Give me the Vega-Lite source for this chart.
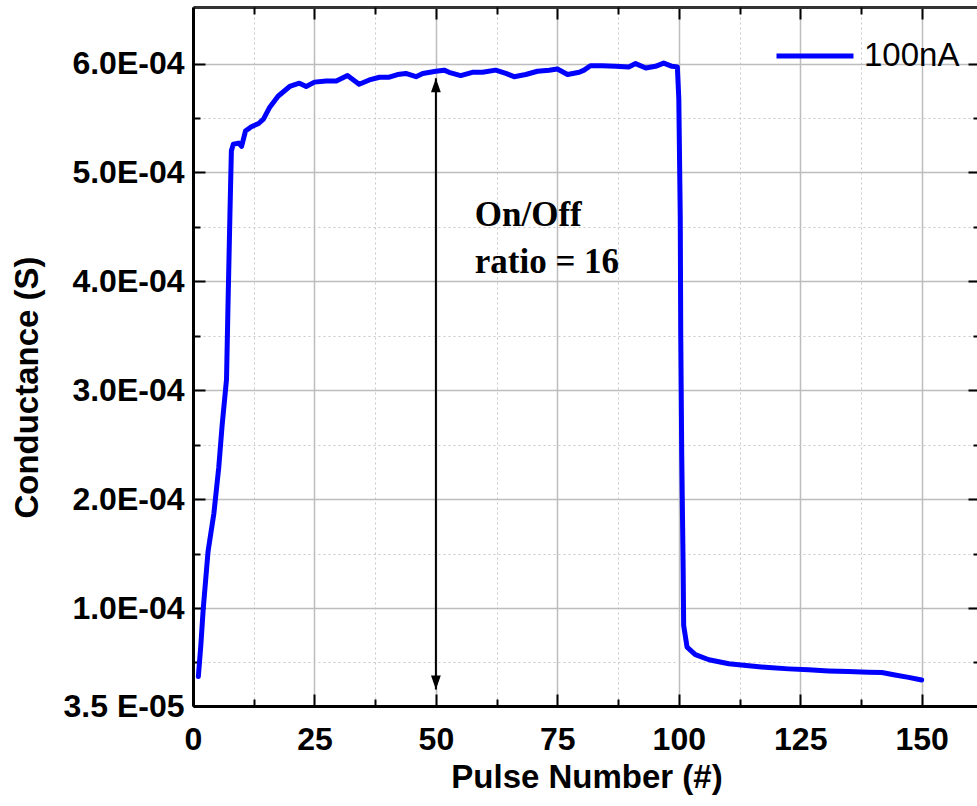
{
  "$schema": "https://vega.github.io/schema/vega-lite/v6.json",
  "autosize": {"type": "none"},
  "width": 787,
  "height": 699,
  "padding": {"left": 193, "top": 7, "right": 0, "bottom": 100},
  "background": "white",
  "config": {
    "view": {"stroke": null},
    "axis": {"labelFont": "Liberation Sans", "titleFont": "Liberation Sans", "labelColor": "black", "titleColor": "black", "tickColor": "black", "tickWidth": 2, "labelFlush": false, "labelOverlap": false}
  },
  "datasets": {
    "curve": [
      {"pulse": 1.1, "G": 3.7e-5}, {"pulse": 1.6, "G": 6.5e-5}, {"pulse": 2.1, "G": 9.9e-5}, {"pulse": 3.1, "G": 1.52e-4},
      {"pulse": 4.3, "G": 1.87e-4}, {"pulse": 5.3, "G": 2.29e-4}, {"pulse": 6.0, "G": 2.68e-4}, {"pulse": 6.9, "G": 3.10e-4},
      {"pulse": 7.2, "G": 3.77e-4}, {"pulse": 7.6, "G": 4.61e-4}, {"pulse": 7.9, "G": 5.20e-4}, {"pulse": 8.3, "G": 5.26e-4},
      {"pulse": 9.4, "G": 5.27e-4}, {"pulse": 10.0, "G": 5.24e-4}, {"pulse": 10.8, "G": 5.38e-4}, {"pulse": 12.0, "G": 5.42e-4},
      {"pulse": 13.5, "G": 5.45e-4}, {"pulse": 14.5, "G": 5.49e-4}, {"pulse": 15.8, "G": 5.60e-4}, {"pulse": 17.5, "G": 5.70e-4},
      {"pulse": 19.9, "G": 5.79e-4}, {"pulse": 21.9, "G": 5.82e-4}, {"pulse": 23.3, "G": 5.79e-4}, {"pulse": 25.0, "G": 5.83e-4},
      {"pulse": 27.4, "G": 5.84e-4}, {"pulse": 29.5, "G": 5.84e-4}, {"pulse": 31.8, "G": 5.89e-4}, {"pulse": 34.2, "G": 5.81e-4},
      {"pulse": 36.3, "G": 5.85e-4}, {"pulse": 38.4, "G": 5.875e-4}, {"pulse": 40.4, "G": 5.875e-4}, {"pulse": 42.1, "G": 5.90e-4},
      {"pulse": 43.8, "G": 5.91e-4}, {"pulse": 45.9, "G": 5.88e-4}, {"pulse": 47.3, "G": 5.91e-4}, {"pulse": 50.0, "G": 5.93e-4},
      {"pulse": 51.7, "G": 5.94e-4}, {"pulse": 52.7, "G": 5.92e-4}, {"pulse": 55.1, "G": 5.89e-4}, {"pulse": 57.5, "G": 5.92e-4},
      {"pulse": 59.6, "G": 5.92e-4}, {"pulse": 62.3, "G": 5.94e-4}, {"pulse": 64.4, "G": 5.91e-4}, {"pulse": 66.1, "G": 5.88e-4},
      {"pulse": 68.5, "G": 5.90e-4}, {"pulse": 70.9, "G": 5.93e-4}, {"pulse": 73.3, "G": 5.94e-4}, {"pulse": 75.0, "G": 5.95e-4},
      {"pulse": 77.1, "G": 5.90e-4}, {"pulse": 79.5, "G": 5.92e-4}, {"pulse": 80.5, "G": 5.94e-4}, {"pulse": 81.8, "G": 5.98e-4},
      {"pulse": 84.2, "G": 5.98e-4}, {"pulse": 87.0, "G": 5.975e-4}, {"pulse": 89.7, "G": 5.97e-4}, {"pulse": 91.1, "G": 6.0e-4},
      {"pulse": 93.2, "G": 5.96e-4}, {"pulse": 95.2, "G": 5.975e-4}, {"pulse": 96.9, "G": 6.005e-4}, {"pulse": 98.6, "G": 5.975e-4},
      {"pulse": 99.7, "G": 5.97e-4}, {"pulse": 100.0, "G": 5.68e-4}, {"pulse": 100.3, "G": 4.59e-4}, {"pulse": 100.4, "G": 3.51e-4},
      {"pulse": 100.6, "G": 2.42e-4}, {"pulse": 100.9, "G": 1.34e-4}, {"pulse": 101.0, "G": 8.4e-5}, {"pulse": 101.7, "G": 6.4e-5},
      {"pulse": 103.4, "G": 5.71e-5}, {"pulse": 106.2, "G": 5.25e-5}, {"pulse": 110.3, "G": 4.88e-5}, {"pulse": 114.4, "G": 4.69e-5},
      {"pulse": 118.5, "G": 4.53e-5}, {"pulse": 122.6, "G": 4.41e-5}, {"pulse": 126.7, "G": 4.32e-5}, {"pulse": 130.8, "G": 4.22e-5},
      {"pulse": 134.9, "G": 4.16e-5}, {"pulse": 139.0, "G": 4.10e-5}, {"pulse": 141.8, "G": 4.07e-5}, {"pulse": 144.5, "G": 3.85e-5},
      {"pulse": 147.3, "G": 3.63e-5}, {"pulse": 150.0, "G": 3.39e-5}
    ],
    "arrow": [{"x": 50, "y1": 2.52e-5, "y2": 5.865e-4}],
    "heads": [{"x": 50, "y": 5.865e-4, "dir": "up"}, {"x": 50, "y": 2.52e-5, "dir": "down"}],
    "notes": [{"x": 58, "y": 4.512e-4, "label": "On/Off"}, {"x": 58, "y": 4.08e-4, "label": "ratio = 16"}]
  },
  "layer": [
    {
      "data": {"name": "curve"},
      "mark": {"type": "line", "strokeWidth": 5, "strokeJoin": "round", "strokeCap": "round"},
      "encoding": {
        "x": {"field": "pulse", "type": "quantitative", "scale": {"domain": [0, 162], "nice": false, "zero": false},
          "axis": {"orient": "bottom", "values": [0, 25, 50, 75, 100, 125, 150], "tickSize": -12, "domain": true, "domainColor": "black", "domainWidth": 3,
            "grid": true, "gridColor": "#bdbdbd", "gridWidth": 1.5, "labelFontSize": 32, "labelFontWeight": "bold", "labelPadding": 30,
            "title": "Pulse Number (#)", "titleFontSize": 33, "titleFontWeight": "bold", "titlePadding": 6}},
        "y": {"field": "G", "type": "quantitative", "scale": {"domain": [1e-5, 6.52e-4], "nice": false, "zero": false},
          "axis": {"orient": "left", "values": [1e-5, 1e-4, 2e-4, 3e-4, 4e-4, 5e-4, 6e-4], "tickSize": -12, "domain": true, "domainColor": "black", "domainWidth": 3,
            "grid": true, "gridColor": "#bdbdbd", "gridWidth": 1.5, "labelFontSize": 32, "labelFontWeight": "bold", "labelPadding": 21,
            "labelExpr": "datum.value < 5e-5 ? '3.5 E-05' : format(datum.value * 1e4, '.1f') + 'E-04'",
            "title": "Conductance (S)", "titleFontSize": 33, "titleFontWeight": "bold", "titleX": -149, "titleY": 380}},
        "color": {"datum": "100nA", "scale": {"range": ["#0000ff"]},
          "legend": {"orient": "none", "legendX": 581, "legendY": 8, "title": null, "symbolType": "stroke", "symbolSize": 5929, "symbolStrokeWidth": 5,
            "labelFont": "Liberation Sans", "labelFontSize": 33, "labelColor": "black", "labelOffset": 8, "padding": 0}}
      }
    },
    {
      "data": {"name": "arrow"},
      "mark": {"type": "rule", "color": "black", "strokeWidth": 2},
      "encoding": {
        "x": {"field": "x", "type": "quantitative", "scale": {"domain": [0, 162], "nice": false, "zero": false},
          "axis": {"orient": "bottom", "values": [12.5, 37.5, 62.5, 87.5, 112.5, 137.5], "tickSize": -7, "labels": false, "domain": false,
            "grid": true, "gridColor": "#c8c8c8", "gridWidth": 1, "gridDash": [2, 3], "title": null}},
        "y": {"field": "y1", "type": "quantitative", "scale": {"domain": [1e-5, 6.52e-4], "nice": false, "zero": false},
          "axis": {"orient": "left", "values": [5e-5, 1.5e-4, 2.5e-4, 3.5e-4, 4.5e-4, 5.5e-4], "tickSize": -7, "labels": false, "domain": false,
            "grid": true, "gridColor": "#c8c8c8", "gridWidth": 1, "gridDash": [2, 3], "title": null}},
        "y2": {"field": "y2"}
      }
    },
    {
      "data": {"name": "heads"},
      "mark": {"type": "point", "filled": true, "color": "black", "size": 784, "opacity": 1},
      "encoding": {
        "x": {"field": "x", "type": "quantitative", "scale": {"domain": [0, 162], "nice": false, "zero": false},
          "axis": {"orient": "top", "values": [0, 25, 50, 75, 100, 125, 150], "tickSize": -12, "labels": false, "domain": true, "domainColor": "#333333", "domainWidth": 3, "grid": false, "title": null}},
        "y": {"field": "y", "type": "quantitative", "scale": {"domain": [1e-5, 6.52e-4], "nice": false, "zero": false},
          "axis": {"orient": "right", "values": [1e-4, 2e-4, 3e-4, 4e-4, 5e-4, 6e-4], "tickSize": -12, "labels": false, "domain": false, "grid": false, "title": null}},
        "shape": {"field": "dir", "type": "nominal", "scale": {"domain": ["up", "down"], "range": ["M0,0L-0.35,1L0.35,1Z", "M0,0L-0.35,-1L0.35,-1Z"]}, "legend": null}
      }
    },
    {
      "data": {"name": "notes"},
      "mark": {"type": "text", "font": "Liberation Serif", "fontWeight": "bold", "fontSize": 35, "align": "left", "baseline": "alphabetic", "color": "black"},
      "encoding": {
        "x": {"field": "x", "type": "quantitative", "scale": {"domain": [0, 162], "nice": false, "zero": false},
          "axis": {"orient": "top", "values": [12.5, 37.5, 62.5, 87.5, 112.5, 137.5], "tickSize": -7, "labels": false, "domain": false, "grid": false, "title": null}},
        "y": {"field": "y", "type": "quantitative", "scale": {"domain": [1e-5, 6.52e-4], "nice": false, "zero": false},
          "axis": {"orient": "right", "values": [5e-5, 1.5e-4, 2.5e-4, 3.5e-4, 4.5e-4, 5.5e-4], "tickSize": -7, "labels": false, "domain": false, "grid": false, "title": null}},
        "text": {"field": "label"}
      }
    }
  ],
  "resolve": {"axis": {"x": "independent", "y": "independent"}}
}
